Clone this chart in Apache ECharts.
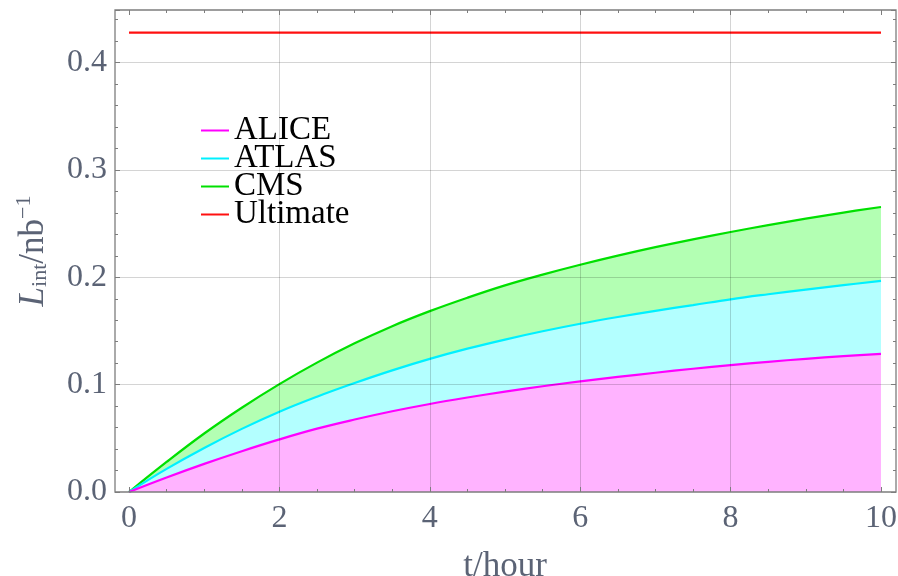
<!DOCTYPE html>
<html>
<head>
<meta charset="utf-8">
<script src="https://cdn.jsdelivr.net/npm/echarts@6/dist/echarts.min.js"></script>
<style>
html,body{margin:0;padding:0;background:#fff;}
#chart{width:898px;height:576px;}
</style>
</head>
<body>
<div id="chart"></div>
<script>
// ---- data ----
var hours = [0, 0.5, 1, 1.5, 2, 2.5, 3, 3.5, 4, 4.5, 5, 5.5, 6, 6.5, 7, 7.5, 8, 8.5, 9, 9.5, 10];
var alice = [0, 0.0135, 0.0262, 0.0380, 0.0490, 0.0590, 0.0675, 0.0752, 0.0820, 0.0880, 0.0935, 0.0985, 0.1030, 0.1072, 0.1111, 0.1148, 0.1182, 0.1213, 0.1241, 0.1265, 0.1287];
var atlas = [0, 0.0215, 0.0410, 0.0588, 0.0748, 0.0888, 0.1015, 0.1133, 0.1240, 0.1335, 0.1420, 0.1497, 0.1567, 0.1630, 0.1688, 0.1741, 0.1795, 0.1842, 0.1886, 0.1927, 0.1966];
var cms   = [0, 0.0280, 0.0545, 0.0785, 0.1005, 0.1205, 0.1385, 0.1545, 0.1685, 0.1810, 0.1925, 0.2025, 0.2117, 0.2202, 0.2281, 0.2354, 0.2422, 0.2486, 0.2546, 0.2603, 0.2655];
var ultimateHours = [0, 10];
var ultimateValue = 0.428;
var seriesNames = ['ALICE', 'ATLAS', 'CMS', 'Ultimate'];
var xTicks = [0, 2, 4, 6, 8, 10];
var yTicks = [0.0, 0.1, 0.2, 0.3, 0.4];

function pairs(xs, ys) { return xs.map(function (x, i) { return [x, ys[i]]; }); }

var FONT = 'Liberation Serif';
var TICKCOL = '#5b6375';
var FRAME = '#7d7d7d';
var GRIDCOL = 'rgba(0,0,0,0.17)';
var YMAX = 0.449;

var chart = echarts.init(document.getElementById('chart'), null, {renderer: 'canvas'});

function yTickAxis(pos, interval, len) {
  return {
    type: 'value', gridIndex: 0, position: pos, min: 0, max: YMAX, interval: interval,
    axisLine: {show: false, onZero: false},
    axisTick: {show: true, inside: true, length: len, lineStyle: {color: FRAME, width: 1}},
    axisLabel: {show: false}, splitLine: {show: false}, z: 5
  };
}

var option = {
  animation: false,
  backgroundColor: '#ffffff',
  grid: [
    {left: 115, right: 2, top: 10, bottom: 84, show: true, borderColor: FRAME, borderWidth: 1.3,
      backgroundColor: 'transparent', z: 6, outerBoundsMode: 'none', containLabel: false},
    {left: 129, right: 17, top: 10, bottom: 84, show: false, outerBoundsMode: 'none', containLabel: false}
  ],
  legend: {
    orient: 'vertical', left: 201, top: 114, padding: 0, itemGap: -5, itemWidth: 28, itemHeight: 14,
    data: seriesNames,
    textStyle: {fontFamily: FONT, fontSize: 33, color: '#000'},
    icon: 'path://M0,7 L28,7 L28,9 L0,9 Z'
  },
  xAxis: [
    {type: 'value', gridIndex: 0, min: -0.2, max: 10.2, show: false},
    {
      type: 'value', gridIndex: 1, position: 'bottom', min: 0, max: 10, interval: 2,
      axisLine: {show: false, onZero: false},
      axisTick: {show: true, inside: true, length: 5, lineStyle: {color: FRAME}},
      minorTick: {show: true, splitNumber: 4, length: 3, lineStyle: {color: FRAME}},
      axisLabel: {show: true, margin: 11, fontFamily: FONT, fontSize: 32, color: TICKCOL,
        customValues: xTicks, formatter: function (v) { return String(v); }},
      splitLine: {show: true, showMinLine: false, showMaxLine: false, lineStyle: {color: GRIDCOL, width: 1}},
      name: 't/hour', nameLocation: 'middle', nameGap: 57,
      nameTextStyle: {fontFamily: FONT, fontSize: 35, color: TICKCOL},
      z: 5
    },
    {
      type: 'value', gridIndex: 1, position: 'top', min: 0, max: 10, interval: 2,
      axisLine: {show: false, onZero: false},
      axisTick: {show: true, inside: true, length: 5, lineStyle: {color: FRAME}},
      minorTick: {show: true, splitNumber: 4, length: 3, lineStyle: {color: FRAME}},
      axisLabel: {show: false}, splitLine: {show: false}, z: 5
    }
  ],
  yAxis: [
    {
      type: 'value', gridIndex: 0, position: 'left', min: 0, max: YMAX, interval: 0.1,
      axisLine: {show: false, onZero: false},
      axisTick: {show: true, inside: true, length: 5, lineStyle: {color: FRAME}},
      axisLabel: {show: true, margin: 8, fontFamily: FONT, fontSize: 32, color: TICKCOL,
        customValues: yTicks, formatter: function (v) { return v.toFixed(1); }},
      splitLine: {show: true, showMinLine: false, showMaxLine: false, lineStyle: {color: GRIDCOL, width: 1}},
      name: '{it|L}{sub|int}{n|/nb}{sup|\u22121}', nameLocation: 'middle', nameGap: 64, nameRotate: 90,
      nameTextStyle: {
        fontFamily: FONT, fontSize: 35, color: TICKCOL,
        rich: {
          it: {fontFamily: FONT, fontSize: 35, fontStyle: 'italic', color: TICKCOL, verticalAlign: 'bottom', lineHeight: 38},
          sub: {fontFamily: FONT, fontSize: 22, color: TICKCOL, verticalAlign: 'bottom', lineHeight: 32},
          n: {fontFamily: FONT, fontSize: 35, color: TICKCOL, verticalAlign: 'bottom', lineHeight: 38},
          sup: {fontFamily: FONT, fontSize: 22, color: TICKCOL, verticalAlign: 'top', lineHeight: 38}
        }
      },
      z: 5
    },
    yTickAxis('left', 0.02, 3),
    yTickAxis('right', 0.1, 5),
    yTickAxis('right', 0.02, 3),
    {type: 'value', gridIndex: 1, min: 0, max: YMAX, show: false}
  ],
  series: [
    {
      name: 'CMS', type: 'line', xAxisIndex: 1, yAxisIndex: 4, smooth: 0.4, showSymbol: false, symbol: 'none',
      data: pairs(hours, cms), lineStyle: {color: '#00e000', width: 2.2}, itemStyle: {color: '#00e000'},
      areaStyle: {color: '#b3ffb3', opacity: 1}, z: 2
    },
    {
      name: 'ATLAS', type: 'line', xAxisIndex: 1, yAxisIndex: 4, smooth: 0.4, showSymbol: false, symbol: 'none',
      data: pairs(hours, atlas), lineStyle: {color: '#00f0ff', width: 2.2}, itemStyle: {color: '#00f0ff'},
      areaStyle: {color: '#b3ffff', opacity: 1}, z: 2
    },
    {
      name: 'ALICE', type: 'line', xAxisIndex: 1, yAxisIndex: 4, smooth: 0.4, showSymbol: false, symbol: 'none',
      data: pairs(hours, alice), lineStyle: {color: '#ff00ff', width: 2.2}, itemStyle: {color: '#ff00ff'},
      areaStyle: {color: '#ffb3ff', opacity: 1}, z: 2
    },
    {
      name: 'Ultimate', type: 'line', xAxisIndex: 1, yAxisIndex: 4, showSymbol: false, symbol: 'none',
      data: ultimateHours.map(function (h) { return [h, ultimateValue]; }),
      lineStyle: {color: '#ff1010', width: 2.2}, itemStyle: {color: '#ff1010'}, z: 2
    }
  ]
};
chart.setOption(option);
</script>
</body>
</html>
